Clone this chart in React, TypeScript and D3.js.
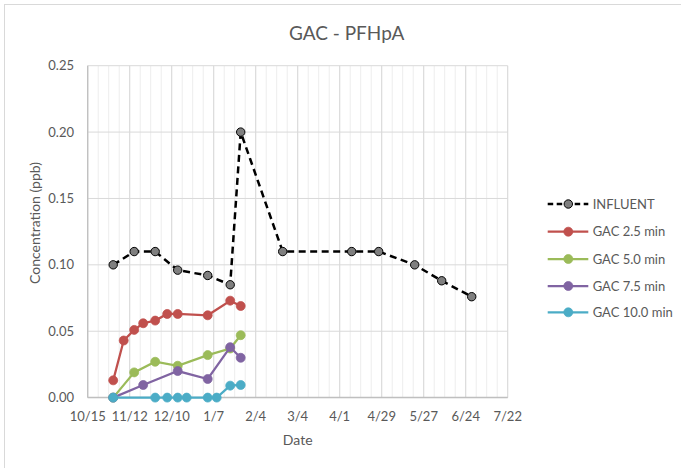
import React from "react";
import * as d3 from "d3";

const W = 681;
const H = 468;

const parse = d3.timeParse("%Y-%m-%d");

const influentDates = ["2018-11-01", "2018-11-15", "2018-11-29", "2018-12-14", "2019-01-03", "2019-01-18", "2019-01-25", "2019-02-22", "2019-04-09", "2019-04-27", "2019-05-21", "2019-06-08", "2019-06-28"];
const influentValues = [0.1, 0.11, 0.11, 0.096, 0.092, 0.085, 0.2, 0.11, 0.11, 0.11, 0.1, 0.088, 0.076];

const gac25Dates = ["2018-11-01", "2018-11-08", "2018-11-15", "2018-11-21", "2018-11-29", "2018-12-07", "2018-12-14", "2019-01-03", "2019-01-18", "2019-01-25"];
const gac25Values = [0.013, 0.043, 0.051, 0.056, 0.058, 0.063, 0.063, 0.062, 0.073, 0.069];

const gac50Dates = ["2018-11-01", "2018-11-15", "2018-11-29", "2018-12-14", "2019-01-03", "2019-01-18", "2019-01-25"];
const gac50Values = [0, 0.019, 0.027, 0.024, 0.032, 0.037, 0.047];

const gac75Dates = ["2018-11-01", "2018-11-21", "2018-12-14", "2019-01-03", "2019-01-18", "2019-01-25"];
const gac75Values = [0, 0.0095, 0.02, 0.014, 0.038, 0.03];

const gac100Dates = ["2018-11-01", "2018-11-29", "2018-12-07", "2018-12-14", "2018-12-20", "2019-01-03", "2019-01-09", "2019-01-18", "2019-01-25"];
const gac100Values = [0, 0, 0, 0, 0, 0, 0, 0.009, 0.0095];

const xTickDates = ["2018-10-15", "2018-11-12", "2018-12-10", "2019-01-07", "2019-02-04", "2019-03-04", "2019-04-01", "2019-04-29", "2019-05-27", "2019-06-24", "2019-07-22"];
const yTicks = [0, 0.05, 0.1, 0.15, 0.2, 0.25];

const seriesNames = ["INFLUENT", "GAC 2.5 min", "GAC 5.0 min", "GAC 7.5 min", "GAC 10.0 min"];
const seriesColors = ["#000000", "#C0504D", "#9BBB59", "#8064A2", "#4BACC6"];

const FONT = "Lato, 'Open Sans', sans-serif";
const TXT = "#595959";

export default function App() {
  const x0 = parse(xTickDates[0]) as Date;
  const x1 = parse(xTickDates[xTickDates.length - 1]) as Date;
  const x = d3.scaleTime().domain([x0, x1]).range([87.7, 507.7]);
  const y = d3.scaleLinear().domain([0, 0.25]).range([397.6, 65.7]);

  const minor = d3.timeDay.range(x0, d3.timeDay.offset(x1, 1), 7);

  const series = [
    { dates: influentDates, values: influentValues },
    { dates: gac25Dates, values: gac25Values },
    { dates: gac50Dates, values: gac50Values },
    { dates: gac75Dates, values: gac75Values },
    { dates: gac100Dates, values: gac100Values },
  ].map((s, i) => ({
    name: seriesNames[i],
    color: seriesColors[i],
    pts: s.dates.map((d, j) => ({ d: parse(d) as Date, v: s.values[j] })),
  }));

  const line = d3
    .line<{ d: Date; v: number }>()
    .x((p) => x(p.d))
    .y((p) => y(p.v));

  const fmtX = d3.timeFormat("%-m/%-d");
  const legendY = [204, 231.7, 259, 286, 312.3];

  return (
    <svg
      width={W}
      height={H}
      style={{ position: "absolute", left: 0, top: 0, background: "#fff" }}
      fontFamily={FONT}
    >
      <rect x={0} y={0} width={W} height={H} fill="#fff" />
      <rect x={4.5} y={4.5} width={W + 10} height={H + 10} fill="none" stroke="#d9d9d9" strokeWidth={1} />

      {/* minor vertical gridlines */}
      {minor.map((d, i) => (
        <line key={"mn" + i} x1={x(d)} x2={x(d)} y1={y(0.25)} y2={y(0)} stroke="#ededed" strokeWidth={1} />
      ))}
      {/* major vertical gridlines */}
      {xTickDates.map((s, i) => {
        const d = parse(s) as Date;
        return <line key={"mj" + i} x1={x(d)} x2={x(d)} y1={y(0.25)} y2={y(0)} stroke="#d9d9d9" strokeWidth={1} />;
      })}
      {/* horizontal gridlines */}
      {yTicks.map((t, i) => (
        <line key={"h" + i} x1={x(x0)} x2={x(x1)} y1={y(t)} y2={y(t)} stroke="#d9d9d9" strokeWidth={1} />
      ))}
      {/* axes */}
      <line x1={x(x0)} x2={x(x0)} y1={y(0.25)} y2={y(0)} stroke="#bfbfbf" strokeWidth={1.25} />
      <line x1={x(x0)} x2={x(x1)} y1={y(0)} y2={y(0)} stroke="#bfbfbf" strokeWidth={1.5} />

      {/* y tick labels */}
      {yTicks.map((t, i) => (
        <text key={"yl" + i} x={74} y={y(t) + 4.5} textAnchor="end" fontSize={13} fill={TXT}>
          {d3.format(".2f")(t)}
        </text>
      ))}
      {/* x tick labels */}
      {xTickDates.map((s, i) => {
        const d = parse(s) as Date;
        return (
          <text key={"xl" + i} x={x(d)} y={421} textAnchor="middle" fontSize={13} fill={TXT}>
            {fmtX(d)}
          </text>
        );
      })}

      <text x={297.7} y={445} textAnchor="middle" fontSize={14} fill={TXT}>
        Date
      </text>
      <text
        transform="translate(40,223) rotate(-90)"
        textAnchor="middle"
        fontSize={14}
        fill={TXT}
      >
        Concentration (ppb)
      </text>
      <text x={346.7} y={40} textAnchor="middle" fontSize={19} fill={TXT}>
        GAC - PFHpA
      </text>

      {/* series */}
      {series.map((s, i) => (
        <g key={"s" + i}>
          <path
            d={line(s.pts) || ""}
            fill="none"
            stroke={s.color}
            strokeWidth={i === 0 ? 2.5 : 2.25}
            strokeDasharray={i === 0 ? "7,4.5" : undefined}
          />
          {s.pts.map((p, j) => (
            <circle
              key={j}
              cx={x(p.d)}
              cy={y(p.v)}
              r={i === 0 ? 4.2 : 4.5}
              fill={i === 0 ? "#7f7f7f" : s.color}
              stroke={i === 0 ? "#000" : s.color}
              strokeWidth={i === 0 ? 1 : 0.75}
            />
          ))}
        </g>
      ))}

      {/* legend */}
      {series.map((s, i) => (
        <g key={"lg" + i} transform={`translate(0,${legendY[i]})`}>
          <line
            x1={547.7}
            x2={588.3}
            y1={0}
            y2={0}
            stroke={s.color}
            strokeWidth={i === 0 ? 2.5 : 2.25}
            strokeDasharray={i === 0 ? "5.5,3.5" : undefined}
          />
          <circle
            cx={568.3}
            cy={0}
            r={i === 0 ? 4.2 : 4.5}
            fill={i === 0 ? "#7f7f7f" : s.color}
            stroke={i === 0 ? "#000" : s.color}
            strokeWidth={i === 0 ? 1 : 0.75}
          />
          <text x={592.7} y={4.5} fontSize={13} fill={TXT}>
            {s.name}
          </text>
        </g>
      ))}
    </svg>
  );
}
